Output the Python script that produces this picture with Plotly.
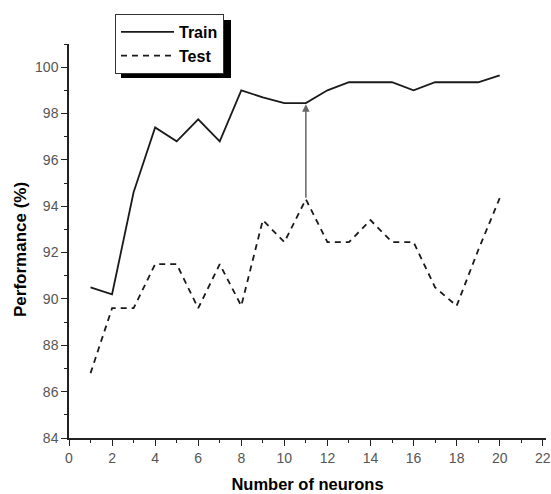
import plotly.graph_objects as go

neurons = list(range(1, 21))
train = [90.5, 90.2, 94.6, 97.4, 96.8, 97.75, 96.8, 99.0, 98.7, 98.45,
         98.45, 99.0, 99.35, 99.35, 99.35, 99.0, 99.35, 99.35, 99.35, 99.65]
test = [86.8, 89.6, 89.6, 91.5, 91.5, 89.6, 91.5, 89.7, 93.4, 92.45,
        94.3, 92.45, 92.45, 93.4, 92.45, 92.45, 90.5, 89.7, 92.1, 94.35]
arrow_x = 11

W, H = 551, 494
L, R, T, B = 69, 5, 44, 56
PW, PH = W - L - R, H - T - B

fig = go.Figure()
fig.add_trace(go.Scatter(x=neurons, y=train, mode="lines", name="Train",
                         line=dict(color="#1a1a1a", width=1.8)))
fig.add_trace(go.Scatter(x=neurons, y=test, mode="lines", name="Test",
                         line=dict(color="#1a1a1a", width=1.8, dash="6px,5px")))

i = neurons.index(arrow_x)
fig.add_annotation(x=arrow_x, y=train[i] - 0.05, ax=arrow_x, ay=test[i],
                   xref="x", yref="y", axref="x", ayref="y",
                   showarrow=True, arrowhead=2, arrowsize=1, arrowwidth=1.5,
                   arrowcolor="#666666", text="")

# y-axis title
fig.add_annotation(text="<b>Performance (%)</b>", textangle=-90,
                   xref="paper", yref="paper",
                   x=(20 - L) / PW, y=(H - B - 250) / PH,
                   xanchor="center", yanchor="middle", showarrow=False,
                   font=dict(family="Liberation Sans, Arial", size=17, color="black"))

# legend shadow
fig.add_shape(type="rect", xref="paper", yref="paper",
              x0=(121 - L) / PW, x1=(231 - L) / PW,
              y0=(H - B - 78) / PH, y1=(H - B - 20) / PH,
              fillcolor="black", line=dict(width=0), layer="above")

axis_common = dict(showline=True, linecolor="#222222", linewidth=1.5,
                   ticks="outside", ticklen=6, tickwidth=1.3, tickcolor="#222222",
                   showgrid=False, zeroline=False, mirror=False, automargin=False,
                   tickfont=dict(family="Liberation Sans, Arial", size=14, color="#555555"))

fig.update_layout(
    width=W, height=H,
    margin=dict(l=L, r=R, t=T, b=B),
    plot_bgcolor="white", paper_bgcolor="white",
    showlegend=True,
    legend=dict(x=(115 - L) / PW, y=(H - B - 14) / PH,
                xanchor="left", yanchor="top",
                bgcolor="white", bordercolor="#333333", borderwidth=1,
                font=dict(family="Liberation Sans, Arial", size=16, color="black",
                          weight="bold"),
                itemwidth=53, tracegroupgap=0),
    xaxis=dict(range=[0, 22.15], tickmode="linear", tick0=0, dtick=2,
               minor=dict(dtick=1, ticklen=3, ticks="outside", tickcolor="#222222"),
               title=dict(text="<b>Number of neurons</b>", standoff=14,
                          font=dict(family="Liberation Sans, Arial", size=16.5, color="black")),
               **axis_common),
    yaxis=dict(range=[84, 101], tickmode="linear", tick0=84, dtick=2,
               minor=dict(dtick=1, ticklen=3, ticks="outside", tickcolor="#222222"),
               **axis_common),
)

fig.write_html("out.html", config={"displayModeBar": False},
               post_script="document.body.style.margin='0';")
